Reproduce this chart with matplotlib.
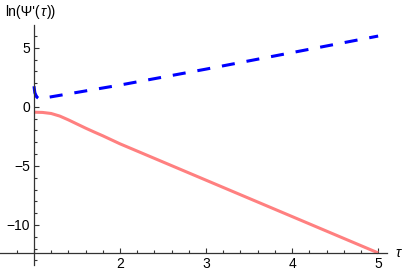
import matplotlib
matplotlib.use('Agg')
import matplotlib.pyplot as plt
from matplotlib.ticker import MultipleLocator, FixedLocator

plt.rcParams['font.family'] = ['Liberation Sans', 'DejaVu Sans']
plt.rcParams['lines.scale_dashes'] = False

# values
tau_pink = [1.0, 1.1, 1.2, 1.3, 1.4, 1.5, 1.6, 1.7, 1.8, 2.0, 2.5, 3.0, 3.5, 4.0, 4.5, 5.0]
psi_pink = [-0.45, -0.47, -0.56, -0.78, -1.1, -1.45, -1.8, -2.13, -2.45, -3.13, -4.67, -6.21, -7.75, -9.29, -10.83, -12.37]

tau_blue = [1.0, 1.01, 1.03, 1.06, 2.0, 3.0, 4.0, 5.0]
psi_blue = [1.75, 1.2, 0.85, 0.68, 1.85, 3.2, 4.6, 6.0]

x_ticks = [2, 3, 4, 5]
y_ticks = [-10, -5, 0, 5]
x_axis_y = -12.37

fig = plt.figure(figsize=(4.05, 2.76), dpi=100)
ax = fig.add_axes([0.0, 0.04, 0.956, 0.87])

ax.plot(tau_pink, psi_pink, color='#FF8080', lw=2.2, solid_capstyle='butt')
ax.plot(tau_blue, psi_blue, color='#0000FF', lw=2.2, dashes=(9.4, 8.6))

ax.set_xlim(0.605, 5.105)
ax.set_ylim(-13.39, 6.95)

for s in ['top', 'right']:
    ax.spines[s].set_visible(False)
ax.spines['left'].set_position(('data', 1))
ax.spines['bottom'].set_position(('data', x_axis_y))
for s in ['left', 'bottom']:
    ax.spines[s].set_color('#333333')
    ax.spines[s].set_linewidth(0.9)

ax.xaxis.set_major_locator(FixedLocator(x_ticks))
ax.xaxis.set_minor_locator(MultipleLocator(0.2))
ax.yaxis.set_major_locator(FixedLocator(y_ticks))
ax.yaxis.set_minor_locator(MultipleLocator(1))
ax.tick_params(which='both', direction='in', color='#333333', width=0.8, labelsize=10)
ax.tick_params(which='major', length=3.5, pad=3)
ax.tick_params(which='minor', length=2)
ax.set_yticklabels(['\u221210', '\u22125', '0', '5'])

ax.annotate('\u03c4', xy=(1, x_axis_y), xycoords=('axes fraction', 'data'),
            xytext=(6, 0), textcoords='offset points', ha='left', va='center',
            fontsize=10, style='italic')
fig.text(0.012, 1 - 12 / 276, "ln(\u03a8'(", ha='left', va='center', fontsize=10)
fig.text(0.012 + 36 / 405, 1 - 12 / 276, "\u03c4", ha='left', va='center', fontsize=10, style='italic')
fig.text(0.012 + 42 / 405, 1 - 12 / 276, "))", ha='left', va='center', fontsize=10)

fig.savefig('out.png', dpi=100)
